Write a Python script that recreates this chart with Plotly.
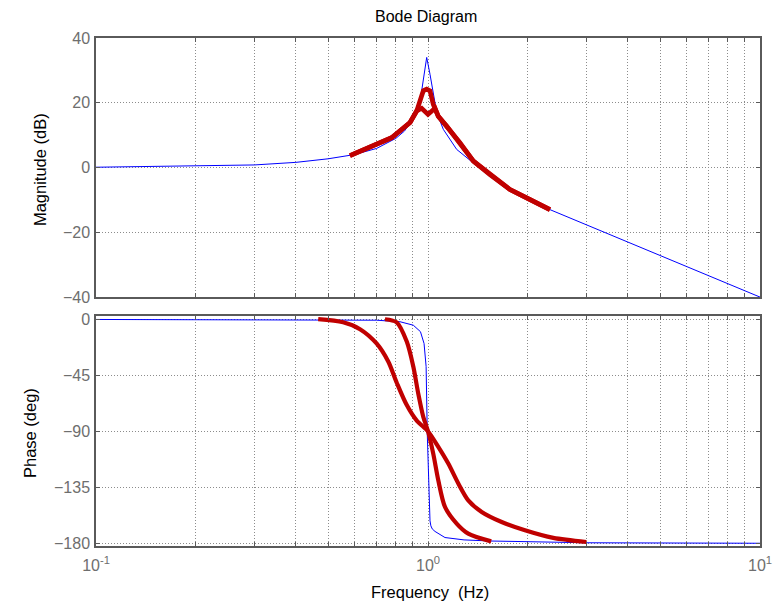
import plotly.graph_objects as go

# ---------------- data ----------------
# Blue: reference system
blue_mag_f = [0.1, 0.2, 0.3, 0.4, 0.5, 0.6, 0.7, 0.8, 0.85, 0.9, 0.95, 0.991, 1.014, 1.062, 1.112, 1.22, 1.37, 1.766, 2.33, 10]
blue_mag_db = [0.1, 0.4, 0.8, 1.6, 2.7, 4.0, 5.9, 9.0, 11.3, 15.0, 21.5, 34.0, 28.8, 17.0, 11.8, 5.6, 1.4, -6.8, -13.0, -40.0]

blue_ph_f = [0.1, 0.5, 0.7, 0.823, 0.903, 0.949, 0.973, 0.987, 0.995, 1.014, 1.02, 1.03, 1.05, 1.125, 1.284, 1.548, 2.1, 3.0, 10]
blue_ph_deg = [-0.2, -0.4, -0.8, -2.0, -4.8, -10.0, -19.5, -38.0, -92.0, -162.0, -166.0, -168.5, -170.5, -175.4, -177.3, -178.2, -179.0, -179.6, -180.0]

# Red: identified responses (two curves)
red1_mag_f = [0.582, 0.684, 0.777, 0.883, 0.925, 0.968, 0.991, 1.014, 1.037, 1.074, 1.138, 1.248, 1.37, 1.537, 1.766, 2.03, 2.33]
red1_mag_db = [3.7, 6.6, 9.2, 13.9, 17.5, 23.7, 24.2, 23.7, 19.5, 15.8, 12.8, 7.7, 2.0, -2.2, -6.8, -9.9, -13.0]

red2_mag_f = [0.582, 0.684, 0.777, 0.883, 0.925, 0.957, 1.0, 1.05, 1.074, 1.138, 1.248, 1.37, 1.537, 1.766, 2.03, 2.33]
red2_mag_db = [3.7, 6.6, 9.2, 13.9, 17.5, 18.3, 16.4, 18.3, 15.8, 12.8, 7.7, 2.0, -2.2, -6.8, -9.9, -13.0]

red1_ph_f = [0.467, 0.555, 0.624, 0.700, 0.759, 0.805, 0.863, 0.925, 1.0, 1.074, 1.151, 1.234, 1.322, 1.451, 1.667, 1.959, 2.385, 3.0]
red1_ph_deg = [0.0, -2.5, -8.0, -19.5, -34.0, -51.0, -69.0, -81.5, -90.0, -102.6, -116.0, -132.0, -145.5, -154.8, -162.9, -169.6, -175.7, -179.0]

red2_ph_f = [0.742, 0.805, 0.863, 0.903, 0.935, 0.968, 1.0, 1.037, 1.074, 1.125, 1.22, 1.322, 1.55]
red2_ph_deg = [0.0, -2.5, -18.0, -38.0, -60.0, -78.5, -90.0, -108.0, -129.4, -150.8, -164.2, -172.3, -178.5]

# ticks
x_major_vals = [0.1, 1, 10]
x_major_text = ["10<sup>-1</sup>", "10<sup>0</sup>", "10<sup>1</sup>"]
x_minor_vals = [0.2, 0.3, 0.4, 0.5, 0.6, 0.7, 0.8, 0.9,
                2, 3, 4, 5, 6, 7, 8, 9]
mag_ticks = [-40, -20, 0, 20, 40]
ph_ticks = [-180, -135, -90, -45, 0]

BLUE = "#0000ff"
RED = "#c00000"
FONT = "Liberation Sans, Arial, sans-serif"
GRID = "#8c8c8c"
GRIDDASH = "1px,2px"

fig = go.Figure()
fig.add_trace(go.Scatter(x=blue_mag_f, y=blue_mag_db, mode="lines",
                         line=dict(color=BLUE, width=1), xaxis="x", yaxis="y"))
fig.add_trace(go.Scatter(x=red1_mag_f, y=red1_mag_db, mode="lines",
                         line=dict(color=RED, width=4.7), xaxis="x", yaxis="y"))
fig.add_trace(go.Scatter(x=red2_mag_f, y=red2_mag_db, mode="lines",
                         line=dict(color=RED, width=4.7), xaxis="x", yaxis="y"))

fig.add_trace(go.Scatter(x=blue_ph_f, y=blue_ph_deg, mode="lines",
                         line=dict(color=BLUE, width=1),
                         xaxis="x2", yaxis="y2"))
fig.add_trace(go.Scatter(x=red1_ph_f, y=red1_ph_deg, mode="lines",
                         line=dict(color=RED, width=4.2, shape="spline", smoothing=0.8),
                         xaxis="x2", yaxis="y2"))
fig.add_trace(go.Scatter(x=red2_ph_f, y=red2_ph_deg, mode="lines",
                         line=dict(color=RED, width=4.2, shape="spline", smoothing=0.8),
                         xaxis="x2", yaxis="y2"))

common_axis = dict(
    showline=True, linecolor="#5a5a5a", linewidth=1.5, mirror="allticks",
    ticks="inside", ticklen=4, tickcolor="#5a5a5a", tickwidth=1,
    showgrid=True, gridcolor=GRID, griddash=GRIDDASH, gridwidth=1,
    zeroline=False, automargin=False,
    tickfont=dict(family=FONT, size=16, color="#6e6e6e"),
)
minor_x = dict(tickvals=x_minor_vals, ticks="inside", ticklen=4, tickcolor="#5a5a5a",
               showgrid=True, gridcolor=GRID, griddash=GRIDDASH, gridwidth=1)

fig.update_layout(
    width=775, height=604,
    margin=dict(l=96, r=15, t=38, b=58),
    paper_bgcolor="white", plot_bgcolor="white",
    showlegend=False,
    font=dict(family=FONT),
    xaxis=dict(type="log", range=[-1, 1], domain=[0, 1], anchor="y",
               tickvals=x_major_vals, ticktext=x_major_text, showticklabels=False,
               minor=minor_x, **common_axis),
    yaxis=dict(range=[-40, 40], domain=[0.490, 1.0], anchor="x",
               tickvals=mag_ticks, ticklabelstandoff=1, **common_axis),
    xaxis2=dict(type="log", range=[-1, 1], domain=[0, 1], anchor="y2",
                tickvals=x_major_vals, ticktext=x_major_text, ticklabelstandoff=4,
                minor=minor_x, **common_axis),
    yaxis2=dict(range=[-182.2, 2.6], domain=[0, 0.4528], anchor="x2",
                tickvals=ph_ticks, ticklabelstandoff=1, **common_axis),
    annotations=[
        dict(text="Bode Diagram", xref="paper", yref="paper", x=0.497, y=1.043,
             showarrow=False, font=dict(family=FONT, size=16, color="black"),
             xanchor="center", yanchor="middle"),
        dict(text="Magnitude (dB)", xref="paper", yref="paper", x=-0.0843, y=0.740,
             textangle=-90, showarrow=False, font=dict(family=FONT, size=16.5, color="black"),
             xanchor="center", yanchor="middle"),
        dict(text="Phase (deg)", xref="paper", yref="paper", x=-0.0994, y=0.2224,
             textangle=-90, showarrow=False, font=dict(family=FONT, size=16.5, color="black"),
             xanchor="center", yanchor="middle"),
        dict(text="Frequency  (Hz)", xref="paper", yref="paper", x=0.503, y=-0.0906,
             showarrow=False, font=dict(family=FONT, size=16.5, color="black"),
             xanchor="center", yanchor="middle"),
    ],
)

fig.write_html("out.html",
               config={"displayModeBar": False},
               post_script="document.body.style.margin='0px';document.body.style.overflow='hidden';")
